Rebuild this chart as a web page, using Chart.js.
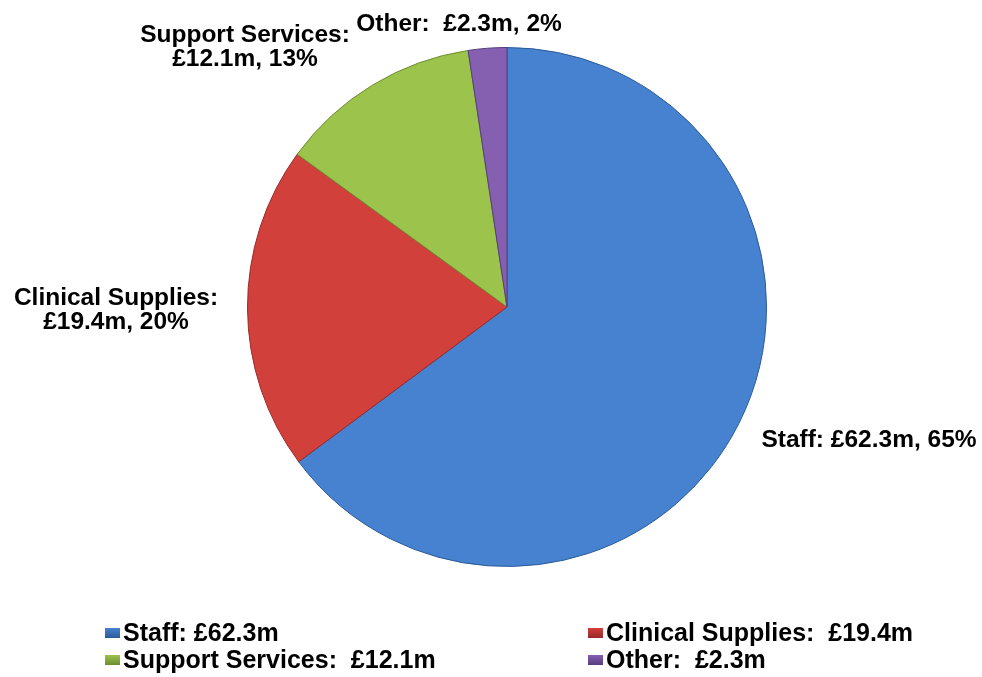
<!DOCTYPE html>
<html>
<head>
<meta charset="utf-8">
<script src="https://cdn.jsdelivr.net/npm/chart.js@4"></script>
<style>
html,body{margin:0;padding:0;background:#fff;}
#wrap{width:982px;height:677px;position:relative;}
</style>
</head>
<body>
<div id="wrap"><canvas id="c" width="982" height="677"></canvas></div>
<script>
const categories = ["Staff", "Clinical Supplies", "Support Services", "Other"];
const values = [62.3, 19.4, 12.1, 2.3];
const percents = [65, 20, 13, 2];
const legendLabels = ["Staff: £62.3m", "Clinical Supplies:  £19.4m", "Support Services:  £12.1m", "Other:  £2.3m"];
const sliceLabels = [
  ["Staff: £62.3m, 65%"],
  ["Clinical Supplies:", "£19.4m, 20%"],
  ["Support Services:", "£12.1m, 13%"],
  ["Other:  £2.3m, 2%"]
];
const colors = ["#4682d0", "#d2403c", "#9cc34c", "#8560b0"];
const edgeColors = ["#2c5a98", "#962a28", "#6c8c30", "#583c7e"];

// layout for labels (text placement, px)
const labelPos = [
  {x: 869, y: 440},
  {x: 116, y: 298},
  {x: 245, y: 35},
  {x: 459, y: 24}
];
const legendPos = [
  {x: 105, y: 633},
  {x: 588, y: 633},
  {x: 105, y: 660},
  {x: 588, y: 660}
];
const LABEL_FONT = 'bold 24.5px "Liberation Sans", Arial, sans-serif';
const LEGEND_FONT = 'bold 25px "Liberation Sans", Arial, sans-serif';

const labelPlugin = {
  id: 'labels',
  afterDraw(chart) {
    const ctx = chart.ctx;
    ctx.save();
    ctx.font = LABEL_FONT;
    ctx.fillStyle = '#000';
    ctx.textAlign = 'center';
    ctx.textBaseline = 'middle';
    sliceLabels.forEach((lines, i) => {
      const p = labelPos[i];
      lines.forEach((t, j) => ctx.fillText(t, p.x, p.y + j * 24));
    });
    // legend
    ctx.font = LEGEND_FONT;
    ctx.textAlign = 'left';
    legendLabels.forEach((t, i) => {
      const p = legendPos[i];
      const g = ctx.createLinearGradient(0, p.y - 5, 0, p.y + 5);
      g.addColorStop(0, colors[i]);
      g.addColorStop(1, edgeColors[i]);
      ctx.fillStyle = g;
      ctx.fillRect(p.x, p.y - 5, 15, 10);
      ctx.fillStyle = '#000';
      ctx.fillText(t, p.x + 18, p.y + 1);
    });
    ctx.restore();
  }
};

function sliceFill(context) {
  const chart = context.chart;
  const i = context.dataIndex;
  const el = context.element;
  if (!chart.chartArea || !el || !el.outerRadius) return colors[i];
  const g = chart.ctx.createRadialGradient(el.x, el.y, 0, el.x, el.y, el.outerRadius);
  g.addColorStop(0, colors[i]);
  g.addColorStop(0.95, colors[i]);
  g.addColorStop(1, edgeColors[i]);
  return g;
}

new Chart(document.getElementById('c'), {
  type: 'pie',
  data: {
    labels: categories,
    datasets: [{
      data: values,
      backgroundColor: sliceFill,
      borderColor: edgeColors,
      borderWidth: 1
    }]
  },
  options: {
    responsive: false,
    animation: false,
    layout: { padding: { top: 47, bottom: 110, left: 247, right: 215 } },
    plugins: { legend: { display: false }, tooltip: { enabled: false } }
  },
  plugins: [labelPlugin]
});
</script>
</body>
</html>
